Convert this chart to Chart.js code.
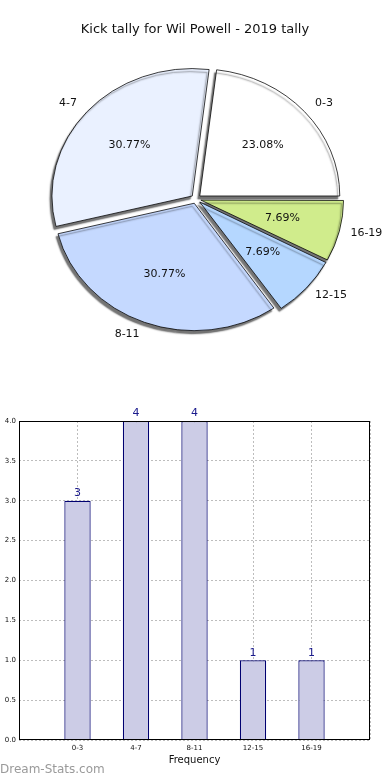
<!DOCTYPE html>
<html>
<head>
<meta charset="utf-8">
<script src="https://cdn.jsdelivr.net/npm/chart.js@4/dist/chart.umd.min.js"></script>
<style>
	body { margin: 0; background: #fff; }
	#wrap { position: relative; width: 390px; height: 780px; overflow: hidden; }
	#title { position: absolute; left: 0; top: 21px; width: 390px; text-align: center;
		font: 13px 'DejaVu Sans'; color: #111; }
	#pieBox { position: absolute; left: 0; top: 0; width: 390px; height: 390px; }
	#barBox { position: absolute; left: 0; top: 390px; width: 390px; height: 390px; }
	#mark { position: absolute; left: 0; top: 762px; font: 12px 'DejaVu Sans'; color: #9a9a9a; }
</style>
</head>
<body>
<div id="wrap">
	<div id="pieBox"><canvas id="pie"></canvas></div>
	<div id="barBox"><canvas id="bar"></canvas></div>
	<div id="title">Kick tally for Wil Powell - 2019 tally</div>
	<div id="mark">Dream-Stats.com</div>
</div>
<script>
// данные
const categories = ['0-3', '4-7', '8-11', '12-15', '16-19'];
const counts = [3, 4, 4, 1, 1];
const percentLabels = ['23.08%', '30.77%', '30.77%', '7.69%', '7.69%'];
const sliceColors = ['#ffffff', '#eaf1ff', '#c5d9ff', '#b5d7ff', '#d0ec8c'];
const yTicks = [0, 0.5, 1, 1.5, 2, 2.5, 3, 3.5, 4];

const FONT = 'DejaVu Sans';
const PIE_SY = 128 / 141; // пирог у matplotlib немного сплюснут
const EXPLODE = 5; // в пикселях (Chart.js v4 делит offset на 4)

// Chart.js рисует по часовой стрелке, matplotlib - против, поэтому разворачиваем
const rev = (arr) => arr.slice().reverse();

// плагин: сплющиваем пирог и добавляем тень
const pieShape = {
	id: 'pieShape',
	beforeDatasetsDraw(chart) {
		const { ctx } = chart;
		const arc = chart.getDatasetMeta(0).data[0];
		ctx.save();
		ctx.translate(arc.x, arc.y);
		ctx.scale(1, PIE_SY);
		ctx.translate(-arc.x, -arc.y);
		ctx.shadowColor = 'rgba(0,0,0,0.55)';
		ctx.shadowOffsetX = -2;
		ctx.shadowOffsetY = 3;
		ctx.shadowBlur = 1.5;
	},
	afterDatasetsDraw(chart) {
		const { ctx } = chart;
		ctx.restore();
		// подписи
		const meta = chart.getDatasetMeta(0);
		const labels = chart.data.labels;
		const pcts = chart.data.datasets[0].pct;
		ctx.save();
		ctx.fillStyle = '#111';
		ctx.font = `11px '${FONT}'`;
		ctx.textBaseline = 'middle';
		meta.data.forEach((arc, i) => {
			const mid = (arc.startAngle + arc.endAngle) / 2;
			const off = EXPLODE;
			const c = Math.cos(mid), s = Math.sin(mid);
			const r = arc.outerRadius;
			ctx.textAlign = 'center';
			ctx.fillText(pcts[i], arc.x + c * (0.6 * r + off), arc.y + s * (0.6 * r + off) * PIE_SY);
			ctx.textAlign = c >= 0 ? 'left' : 'right';
			ctx.fillText(labels[i], arc.x + c * (1.1 * r + off), arc.y + s * (1.1 * r + off) * PIE_SY);
		});
		ctx.restore();
	},
};

new Chart(document.getElementById('pie'), {
	type: 'pie',
	data: {
		labels: rev(categories),
		datasets: [
			{
				data: rev(counts),
				pct: rev(percentLabels),
				backgroundColor: rev(sliceColors),
				borderColor: '#000000',
				borderWidth: 0.8,
				offset: EXPLODE * 4,
			},
		],
	},
	options: {
		responsive: true,
		maintainAspectRatio: false,
		animation: false,
		rotation: 90,
		radius: 140,
		layout: { padding: { left: 2, right: 0, top: 8, bottom: 0 } },
		plugins: { legend: { display: false }, tooltip: { enabled: false } },
		events: [],
	},
	plugins: [pieShape],
});

// рамка вокруг поля диаграммы
const chartAreaBorder = {
	id: 'chartAreaBorder',
	afterDraw(chart) {
		const { ctx, chartArea: { left, top, width, height } } = chart;
		ctx.save();
		ctx.strokeStyle = '#000000';
		ctx.lineWidth = 1;
		ctx.strokeRect(left + 0.5, top + 0.5, width - 1, height - 1);
		ctx.restore();
	},
};

// значения над столбцами
const barValues = {
	id: 'barValues',
	afterDatasetsDraw(chart) {
		const { ctx } = chart;
		const meta = chart.getDatasetMeta(0);
		const vals = chart.data.datasets[0].data;
		ctx.save();
		ctx.fillStyle = '#1a1a8c';
		ctx.font = `11px '${FONT}'`;
		ctx.textAlign = 'center';
		ctx.textBaseline = 'bottom';
		meta.data.forEach((bar, i) => {
			if (vals[i] == null) return;
			ctx.fillText(String(vals[i]), bar.x, bar.y - 2);
		});
		ctx.restore();
	},
};

// пустые края, как отступы слева и справа
const barLabels = [''].concat(categories, ['']);
const barData = [null].concat(counts, [null]);

new Chart(document.getElementById('bar'), {
	type: 'bar',
	data: {
		labels: barLabels,
		datasets: [
			{
				data: barData,
				backgroundColor: '#ccccE6',
				borderColor: '#000070',
				borderWidth: 1.2,
				barPercentage: 0.45,
				categoryPercentage: 1,
			},
		],
	},
	options: {
		responsive: true,
		maintainAspectRatio: false,
		animation: false,
		events: [],
		layout: { padding: { top: 31, right: 20, left: 0, bottom: 0 } },
		plugins: { legend: { display: false }, tooltip: { enabled: false } },
		scales: {
			x: {
				offset: false,
				z: 1,
				border: { display: false, dash: [2, 2] },
				grid: { offset: false, color: '#bdbdbd', lineWidth: 1, drawTicks: false },
				ticks: { color: '#111', font: { family: FONT, size: 7 }, padding: 4, maxRotation: 0, autoSkip: false },
				title: { display: true, text: 'Frequency', color: '#111', font: { family: FONT, size: 10 }, padding: { top: 0, bottom: 14 } },
				afterFit: (s) => { s.height = 40; },
			},
			y: {
				min: 0,
				max: 4,
				z: 1,
				border: { display: false, dash: [2, 2] },
				afterBuildTicks: (s) => { s.ticks = yTicks.map((v) => ({ value: v })); },
				grid: { color: '#bdbdbd', lineWidth: 1, drawTicks: false },
				ticks: {
					color: '#111',
					font: { family: FONT, size: 7 },
					padding: 3,
					callback: (v) => Number(v).toFixed(1),
				},
				afterFit: (s) => { s.width = 19; },
			},
		},
	},
	plugins: [chartAreaBorder, barValues],
});
</script>
</body>
</html>
